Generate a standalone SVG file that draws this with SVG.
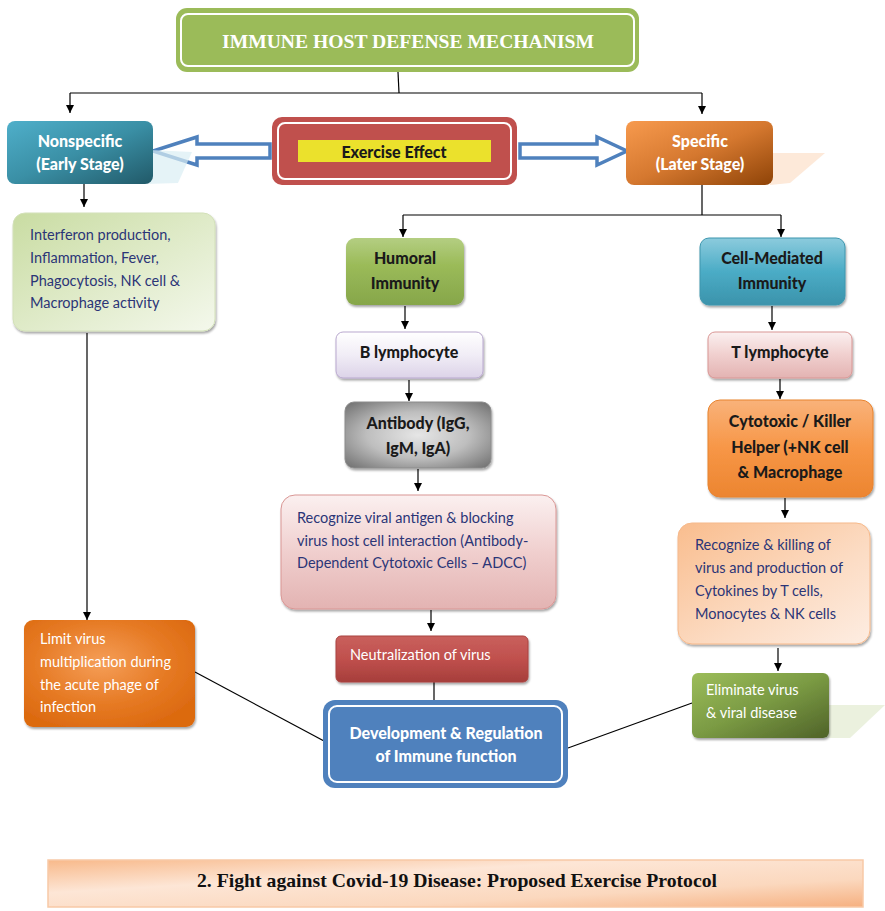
<svg xmlns="http://www.w3.org/2000/svg" width="885" height="911" viewBox="0 0 885 911">
  <defs>
    <style>
      .lbl { font-family: Lato, "Liberation Sans", sans-serif; font-size: 14.5px; }
      .bold { font-family: Lato, "Liberation Sans", sans-serif; font-size: 16px; font-weight: 900; }
      .dk { fill: #1a1a1a; }
      .wt { fill: #ffffff; }
      .nv { fill: #2b3577; }
      .conn { stroke: #000; stroke-width: 1.2; fill: none; }
      .arr { stroke: #000; stroke-width: 1.2; fill: none; marker-end: url(#head); }
      .hollow { fill: #ffffff; stroke: #4F81BD; stroke-width: 3.5; stroke-linejoin: miter; }
    </style>
    <marker id="head" viewBox="0 0 10 10" refX="10" refY="5" markerWidth="8" markerHeight="8" markerUnits="userSpaceOnUse" orient="auto">
      <path d="M0,0 L10,5 L0,10 z" fill="#000"/>
    </marker>
    <filter id="sh" x="-10%" y="-10%" width="125%" height="130%">
      <feDropShadow dx="1" dy="2" stdDeviation="1.2" flood-color="#000" flood-opacity="0.35"/>
    </filter>
    <linearGradient id="gTeal" x1="0" y1="0" x2="1" y2="1">
      <stop offset="0" stop-color="#4FAFCA"/>
      <stop offset="0.5" stop-color="#3A8FA5"/>
      <stop offset="1" stop-color="#215968"/>
    </linearGradient>
    <linearGradient id="gOrangeDk" x1="0" y1="0" x2="1" y2="1">
      <stop offset="0" stop-color="#F79A4E"/>
      <stop offset="0.5" stop-color="#D5782F"/>
      <stop offset="1" stop-color="#8E4307"/>
    </linearGradient>
    <linearGradient id="gLightGreen" x1="0" y1="0" x2="1" y2="1">
      <stop offset="0" stop-color="#C9DCA2"/>
      <stop offset="0.6" stop-color="#E3EDCF"/>
      <stop offset="1" stop-color="#F4F8EC"/>
    </linearGradient>
    <linearGradient id="gGreen" x1="0" y1="0" x2="0" y2="1">
      <stop offset="0" stop-color="#B4CE82"/>
      <stop offset="0.4" stop-color="#9BBB59"/>
      <stop offset="1" stop-color="#86A64A"/>
    </linearGradient>
    <linearGradient id="gPurple" x1="0" y1="0" x2="0" y2="1">
      <stop offset="0" stop-color="#FFFFFF"/>
      <stop offset="0.5" stop-color="#F1EDF6"/>
      <stop offset="1" stop-color="#DCD3E8"/>
    </linearGradient>
    <radialGradient id="gGray" cx="0.5" cy="0.5" r="0.7">
      <stop offset="0" stop-color="#E6E6E6"/>
      <stop offset="0.5" stop-color="#BEBEBE"/>
      <stop offset="1" stop-color="#6E6E6E"/>
    </radialGradient>
    <linearGradient id="gPink" x1="0" y1="0" x2="0" y2="1">
      <stop offset="0" stop-color="#FBF0F0"/>
      <stop offset="0.5" stop-color="#F0CFCE"/>
      <stop offset="1" stop-color="#E3B3B2"/>
    </linearGradient>
    <linearGradient id="gRed" x1="0" y1="0" x2="0" y2="1">
      <stop offset="0" stop-color="#C9605D"/>
      <stop offset="0.5" stop-color="#C0504D"/>
      <stop offset="1" stop-color="#A63E3B"/>
    </linearGradient>
    <linearGradient id="gBlue" x1="0" y1="0" x2="0" y2="1">
      <stop offset="0" stop-color="#8CCBDD"/>
      <stop offset="0.5" stop-color="#4BACC6"/>
      <stop offset="1" stop-color="#3B93AB"/>
    </linearGradient>
    <linearGradient id="gOrange" x1="0" y1="0" x2="0" y2="1">
      <stop offset="0" stop-color="#F9B27A"/>
      <stop offset="0.5" stop-color="#F79646"/>
      <stop offset="1" stop-color="#EC8530"/>
    </linearGradient>
    <linearGradient id="gPeach" x1="0" y1="0" x2="1" y2="1">
      <stop offset="0" stop-color="#F9BD8E"/>
      <stop offset="0.6" stop-color="#FCDCC4"/>
      <stop offset="1" stop-color="#FDEDE2"/>
    </linearGradient>
    <radialGradient id="gLimit" cx="0.45" cy="0.4" r="0.65">
      <stop offset="0" stop-color="#F59E58"/>
      <stop offset="0.6" stop-color="#E67A24"/>
      <stop offset="1" stop-color="#DC6A10"/>
    </radialGradient>
    <linearGradient id="gElim" x1="0" y1="0" x2="1" y2="1">
      <stop offset="0" stop-color="#9CBD5A"/>
      <stop offset="0.5" stop-color="#7A9A43"/>
      <stop offset="1" stop-color="#4F6228"/>
    </linearGradient>
    <linearGradient id="gBanner" x1="0" y1="0" x2="1" y2="1">
      <stop offset="0" stop-color="#F8B98A"/>
      <stop offset="0.35" stop-color="#FDE6D6"/>
      <stop offset="0.7" stop-color="#FBD8BE"/>
      <stop offset="1" stop-color="#F6B080"/>
    </linearGradient>
  </defs>

  <rect width="885" height="911" fill="#ffffff"/>

  <!-- connectors -->
  <g id="connectors">
    <polyline class="conn" points="398,72 399,93"/>
    <polyline class="conn" points="70,93 702,93"/>
    <line class="arr" x1="70" y1="93" x2="70" y2="113"/>
    <line class="arr" x1="702" y1="93" x2="702" y2="114"/>
    <line class="arr" x1="84" y1="184" x2="84" y2="207"/>
    <line class="arr" x1="87" y1="333" x2="87" y2="620"/>
    <line class="conn" x1="702" y1="185" x2="702" y2="215"/>
    <line class="conn" x1="403" y1="215" x2="781" y2="215"/>
    <line class="arr" x1="403" y1="215" x2="403" y2="237"/>
    <line class="arr" x1="781" y1="215" x2="781" y2="237"/>
    <line class="arr" x1="405" y1="306" x2="405" y2="329"/>
    <line class="arr" x1="409" y1="380" x2="409" y2="401"/>
    <line class="arr" x1="418" y1="469" x2="418" y2="491"/>
    <line class="arr" x1="431" y1="610" x2="431" y2="631"/>
    <line class="conn" x1="434" y1="682" x2="434" y2="701"/>
    <line class="arr" x1="772" y1="306" x2="772" y2="330"/>
    <line class="arr" x1="780" y1="379" x2="780" y2="399"/>
    <line class="arr" x1="785" y1="498" x2="785" y2="518"/>
    <line class="arr" x1="778" y1="648" x2="778" y2="671"/>
    <line class="conn" x1="195" y1="672" x2="324" y2="741"/>
    <line class="conn" x1="692" y1="703" x2="568" y2="748"/>
    <!-- hollow block arrows from the exercise box -->
    <path class="hollow" d="M270,144 L197,144 L197,137 L153,151 L197,165 L197,158 L270,158 z"/>
    <path class="hollow" d="M520,144 L597,144 L597,137 L627,151 L597,165 L597,158 L520,158 z"/>
  </g>

  <!-- title -->
  <g id="title">
    <rect x="176" y="8" width="463" height="64" rx="11" fill="#9BBB59"/>
    <rect x="181" y="14" width="453" height="52" rx="7" fill="none" stroke="#ffffff" stroke-width="2"/>
    <text x="408" y="48" text-anchor="middle" font-family="'Liberation Serif', serif" font-weight="bold" font-size="18" fill="#ffffff" textLength="372" lengthAdjust="spacingAndGlyphs">IMMUNE HOST DEFENSE MECHANISM</text>
  </g>

  <!-- nonspecific -->
  <g id="nonspecific">
    <path d="M150,150 L192,152 L178,183 L146,184 z" fill="#DAEEF3" opacity="0.7"/>
    <rect x="7" y="121" width="146" height="63" rx="8" fill="url(#gTeal)"/>
    <text class="bold wt" x="80" y="147" text-anchor="middle">Nonspecific</text>
    <text class="bold wt" x="80" y="170" text-anchor="middle">(Early Stage)</text>
  </g>

  <!-- exercise effect -->
  <g id="exercise">
    <rect x="272" y="117" width="245" height="68" rx="10" fill="#C0504D"/>
    <rect x="278" y="123" width="233" height="56" rx="7" fill="none" stroke="#ffffff" stroke-width="2"/>
    <rect x="298" y="140" width="193" height="22" fill="#EBE12C"/>
    <text class="bold dk" x="394" y="158" text-anchor="middle" font-size="17">Exercise Effect</text>
  </g>

  <!-- specific -->
  <g id="specific">
    <path d="M770,153 L825,153 L790,183 L770,185 z" fill="#FDE9D9"/>
    <rect x="626" y="121" width="147" height="64" rx="8" fill="url(#gOrangeDk)"/>
    <text class="bold wt" x="700" y="147" text-anchor="middle">Specific</text>
    <text class="bold wt" x="700" y="170" text-anchor="middle">(Later Stage)</text>
  </g>

  <!-- nonspecific effects -->
  <g id="innate-effects">
    <rect x="13" y="213" width="202" height="118" rx="12" fill="url(#gLightGreen)" stroke="#D3E1B9" filter="url(#sh)"/>
    <text class="lbl nv" x="30" y="240">Interferon production,</text>
    <text class="lbl nv" x="30" y="263">Inflammation, Fever,</text>
    <text class="lbl nv" x="30" y="286">Phagocytosis, NK cell &amp;</text>
    <text class="lbl nv" x="30" y="308">Macrophage activity</text>
  </g>

  <!-- limit virus -->
  <g id="limit-virus">
    <rect x="24" y="620" width="171" height="107" rx="9" fill="url(#gLimit)" filter="url(#sh)"/>
    <text class="lbl wt" x="40" y="644">Limit virus</text>
    <text class="lbl wt" x="40" y="667">multiplication during</text>
    <text class="lbl wt" x="40" y="690">the acute phage of</text>
    <text class="lbl wt" x="40" y="712">infection</text>
  </g>

  <!-- humoral branch -->
  <g id="humoral">
    <rect x="346" y="238" width="118" height="67" rx="9" fill="url(#gGreen)" filter="url(#sh)"/>
    <text class="bold dk" x="405" y="264" text-anchor="middle">Humoral</text>
    <text class="bold dk" x="405" y="289" text-anchor="middle">Immunity</text>
  </g>
  <g id="b-lymphocyte">
    <rect x="336" y="332" width="147" height="46" rx="7" fill="url(#gPurple)" stroke="#B9A8CF" filter="url(#sh)"/>
    <text class="bold dk" x="409" y="358" text-anchor="middle">B lymphocyte</text>
  </g>
  <g id="antibody">
    <rect x="345" y="402" width="146" height="66" rx="9" fill="url(#gGray)" stroke="#8C8C8C" filter="url(#sh)"/>
    <text class="bold dk" x="418" y="429" text-anchor="middle">Antibody (IgG,</text>
    <text class="bold dk" x="418" y="454" text-anchor="middle">IgM, IgA)</text>
  </g>
  <g id="adcc">
    <rect x="281" y="495" width="275" height="114" rx="14" fill="url(#gPink)" stroke="#D99694" filter="url(#sh)"/>
    <text class="lbl nv" x="297" y="523">Recognize viral antigen &amp; blocking</text>
    <text class="lbl nv" x="297" y="546">virus host cell interaction (Antibody-</text>
    <text class="lbl nv" x="297" y="568">Dependent Cytotoxic Cells – ADCC)</text>
  </g>
  <g id="neutralization">
    <rect x="336" y="636" width="192" height="46" rx="5" fill="url(#gRed)" stroke="#A94441" filter="url(#sh)"/>
    <text class="lbl wt" x="350" y="660">Neutralization of virus</text>
  </g>

  <!-- development -->
  <g id="development">
    <rect x="323" y="700" width="245" height="88" rx="12" fill="#4F81BD"/>
    <rect x="329" y="706" width="233" height="76" rx="8" fill="none" stroke="#ffffff" stroke-width="2"/>
    <text class="bold wt" x="446" y="739" text-anchor="middle" font-size="15">Development &amp; Regulation</text>
    <text class="bold wt" x="446" y="762" text-anchor="middle" font-size="15">of Immune function</text>
  </g>

  <!-- cell-mediated branch -->
  <g id="cell-mediated">
    <rect x="700" y="238" width="145" height="67" rx="9" fill="url(#gBlue)" stroke="#3E96AE" filter="url(#sh)"/>
    <text class="bold dk" x="772" y="264" text-anchor="middle">Cell-Mediated</text>
    <text class="bold dk" x="772" y="289" text-anchor="middle">Immunity</text>
  </g>
  <g id="t-lymphocyte">
    <rect x="708" y="332" width="144" height="46" rx="7" fill="url(#gPink)" stroke="#D99694" filter="url(#sh)"/>
    <text class="bold dk" x="780" y="358" text-anchor="middle">T lymphocyte</text>
  </g>
  <g id="cytotoxic">
    <rect x="708" y="400" width="165" height="97" rx="12" fill="url(#gOrange)" stroke="#E8832F" filter="url(#sh)"/>
    <text class="bold dk" x="790" y="427" text-anchor="middle">Cytotoxic / Killer</text>
    <text class="bold dk" x="790" y="453" text-anchor="middle">Helper (+NK cell</text>
    <text class="bold dk" x="790" y="478" text-anchor="middle">&amp; Macrophage</text>
  </g>
  <g id="cytokines">
    <rect x="678" y="523" width="192" height="121" rx="14" fill="url(#gPeach)" stroke="#F6B98B" filter="url(#sh)"/>
    <text class="lbl nv" x="695" y="550">Recognize &amp; killing of</text>
    <text class="lbl nv" x="695" y="573">virus and production of</text>
    <text class="lbl nv" x="695" y="596">Cytokines by T cells,</text>
    <text class="lbl nv" x="695" y="619">Monocytes &amp; NK cells</text>
  </g>
  <g id="eliminate">
    <path d="M826,705 L885,705 L850,738 L826,738 z" fill="#EBF1DE"/>
    <rect x="692" y="673" width="137" height="65" rx="6" fill="url(#gElim)" filter="url(#sh)"/>
    <text class="lbl wt" x="706" y="695">Eliminate virus</text>
    <text class="lbl wt" x="706" y="718">&amp; viral disease</text>
  </g>

  <!-- caption banner -->
  <g id="caption">
    <rect x="48" y="860" width="815" height="47" fill="url(#gBanner)" stroke="#F8C9A6" stroke-width="1.5"/>
    <text x="457" y="887" text-anchor="middle" font-family="'Liberation Serif', serif" font-weight="bold" font-size="19.5" fill="#111" textLength="520" lengthAdjust="spacingAndGlyphs">2. Fight against Covid-19 Disease: Proposed Exercise Protocol</text>
  </g>
</svg>
